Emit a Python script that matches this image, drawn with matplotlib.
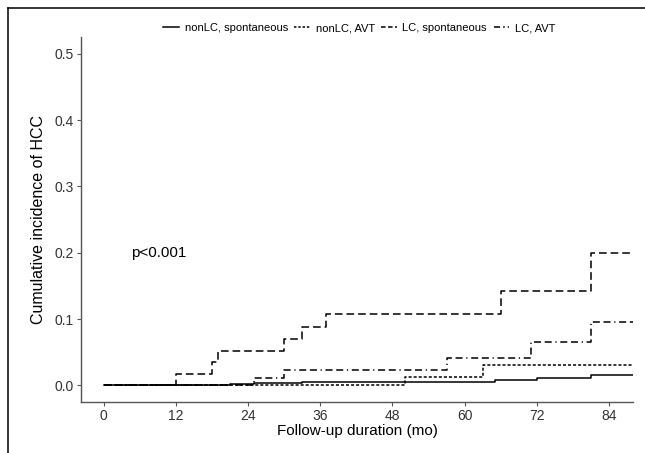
import numpy as np
import matplotlib
matplotlib.use("Agg")
import matplotlib.pyplot as plt
from matplotlib.lines import Line2D

plt.rcParams["font.family"] = ["Liberation Sans", "DejaVu Sans"]

#%% datos (meses, incidencia acumulada)
grupos = ["nonLC, spontaneous", "nonLC, AVT", "LC, spontaneous", "LC, AVT"]

t_nonlc_spont = [0, 12, 21, 25, 30, 33, 65, 72, 81, 88]
y_nonlc_spont = [0, 0.001, 0.002, 0.003, 0.004, 0.0055, 0.008, 0.0115, 0.015, 0.015]

t_nonlc_avt = [0, 50, 63, 88]
y_nonlc_avt = [0, 0.013, 0.031, 0.031]

t_lc_spont = [0, 12, 18, 19, 30, 33, 37, 66, 81, 88]
y_lc_spont = [0, 0.017, 0.035, 0.052, 0.070, 0.088, 0.107, 0.143, 0.200, 0.200]

t_lc_avt = [0, 25, 30, 57, 71, 81, 88]
y_lc_avt = [0, 0.0115, 0.0227, 0.041, 0.066, 0.095, 0.095]

x_ticks = [0, 12, 24, 36, 48, 60, 72, 84]
y_ticks = [0.0, 0.1, 0.2, 0.3, 0.4, 0.5]

#%% figura
fig = plt.figure(figsize=(6.45, 4.53), dpi=100)
ax = fig.add_axes([0.1256, 0.1126, 0.8558, 0.8054])

# en la curva el patrón de LC, AVT se ve casi como guiones; la leyenda muestra guion-punto
estilos = ["-", (0, (2, 1.3)), (0, (5, 2.6)), (0, (4.6, 2.4, 4.6, 2.4, 0.8, 2.4))]
estilos_leyenda = ["-", (0, (1.6, 1.2)), (0, (3, 1.6)), (0, (4, 2, 1, 2))]
curvas = [(t_nonlc_spont, y_nonlc_spont), (t_nonlc_avt, y_nonlc_avt),
          (t_lc_spont, y_lc_spont), (t_lc_avt, y_lc_avt)]
for (t, y), ls in zip(curvas, estilos):
    ax.step(t, y, where="post", color="black", lw=1.1, linestyle=ls)

ax.text(9.2, 0.2, "p<0.001", fontsize=11, ha="center", va="center")

ax.set_xlim(-3.8, 88.0)
ax.set_ylim(-0.025, 0.525)
ax.set_xticks(x_ticks)
ax.set_yticks(y_ticks)
ax.set_yticklabels(["%.1f" % v for v in y_ticks])
ax.set_xlabel("Follow-up duration (mo)", fontsize=11, labelpad=1)
ax.set_ylabel("Cumulative incidence of HCC", fontsize=11.5, labelpad=6)

for lado in ["top", "right"]:
    ax.spines[lado].set_visible(False)
for lado in ["left", "bottom"]:
    ax.spines[lado].set_color("#555555")
    ax.spines[lado].set_linewidth(1.0)
ax.tick_params(axis="both", length=3, width=0.8, color="#555555",
               labelsize=10, labelcolor="#333333", pad=2)

handles = [Line2D([], [], color="black", lw=1.1, linestyle=ls) for ls in estilos_leyenda]
fig.legend(handles, grupos, loc="center", bbox_to_anchor=(0.557, 0.938), ncol=4,
           frameon=False, fontsize=8, handlelength=1.4, handletextpad=0.5,
           columnspacing=0.6)

# marco de la imagen (arriba e izquierda)
fig.add_artist(Line2D([8 / 645, 8 / 645], [0, 1 - 8 / 453], color="black", lw=1.1))
fig.add_artist(Line2D([8 / 645, 1], [1 - 8 / 453, 1 - 8 / 453], color="black", lw=1.1))

fig.savefig("out.png", dpi=100)
